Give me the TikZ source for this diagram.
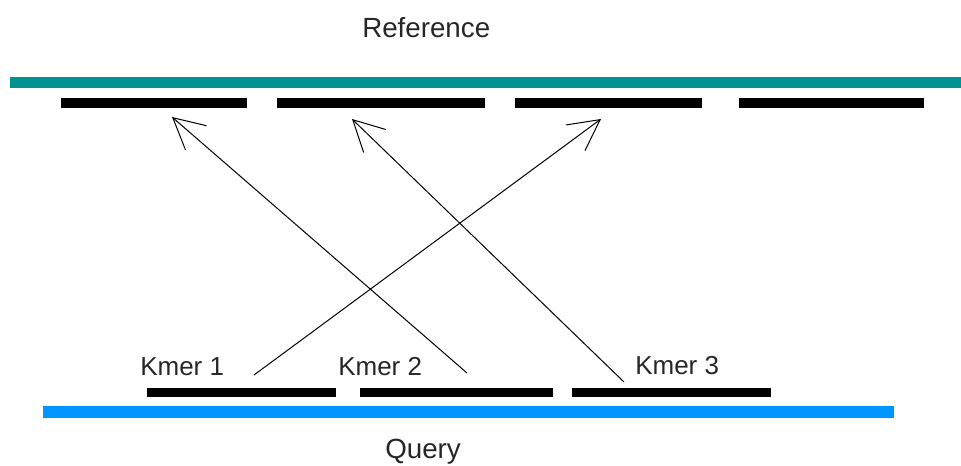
\documentclass[tikz,border=0pt]{standalone}
\usepackage{fontspec}
\setmainfont{Liberation Sans}
\usetikzlibrary{arrows.meta}
\definecolor{refteal}{RGB}{0,145,145}
\definecolor{qblue}{RGB}{0,150,255}
\definecolor{labelgray}{RGB}{38,38,38}
\begin{document}
\begin{tikzpicture}[x=0.75pt,y=-0.75pt,
  seqline/.style={line width=8.3pt},
  kmerbar/.style={line width=8pt, black},
  lbl/.style={anchor=base west, inner sep=0pt, text=labelgray,
    font=\fontsize{19.5}{23}\selectfont},
  biglbl/.style={lbl, font=\fontsize{20.8}{25}\selectfont},
  hit/.style={line width=0.75pt, black,
    -{Straight Barb[length=23pt,width=24pt,line width=0.75pt]}}]
\useasboundingbox (0,0) rectangle (961,466);

% reference sequence and its k-mer slots
\draw[seqline, refteal] (10,82.5) -- (961,82.5);
\draw[kmerbar] (61,103) -- (247,103);
\draw[kmerbar] (277,103) -- (485,103);
\draw[kmerbar] (515,103) -- (702,103);
\draw[kmerbar] (739,103) -- (924,103);

% query sequence and its k-mers
\draw[seqline, qblue] (43,412) -- (894,412);
\draw[kmerbar, line width=7pt] (147,392.5) -- (336,392.5);
\draw[kmerbar, line width=7pt] (360,392.5) -- (553,392.5);
\draw[kmerbar, line width=7pt] (572,392.5) -- (771,392.5);

% labels
\node[biglbl] (reflbl) at (362,37.5) {Reference};
\node[lbl] (k1) at (140,376) {Kmer 1};
\node[lbl] (k2) at (338,376) {Kmer 2};
\node[lbl] (k3) at (635,375) {Kmer 3};
\node[biglbl] (qlbl) at (385,459) {Query};

% hit end points
\coordinate (s1) at (254,375);
\coordinate (s2) at (467,373);
\coordinate (s3) at (624,382);
\coordinate (t1) at (172,117);
\coordinate (t2) at (352,119);
\coordinate (t3) at (601,119);

% k-mer hits
\draw[hit] (s2) -- (t1);
\draw[hit] (s3) -- (t2);
\draw[hit] (s1) -- (t3);
\end{tikzpicture}
\end{document}
